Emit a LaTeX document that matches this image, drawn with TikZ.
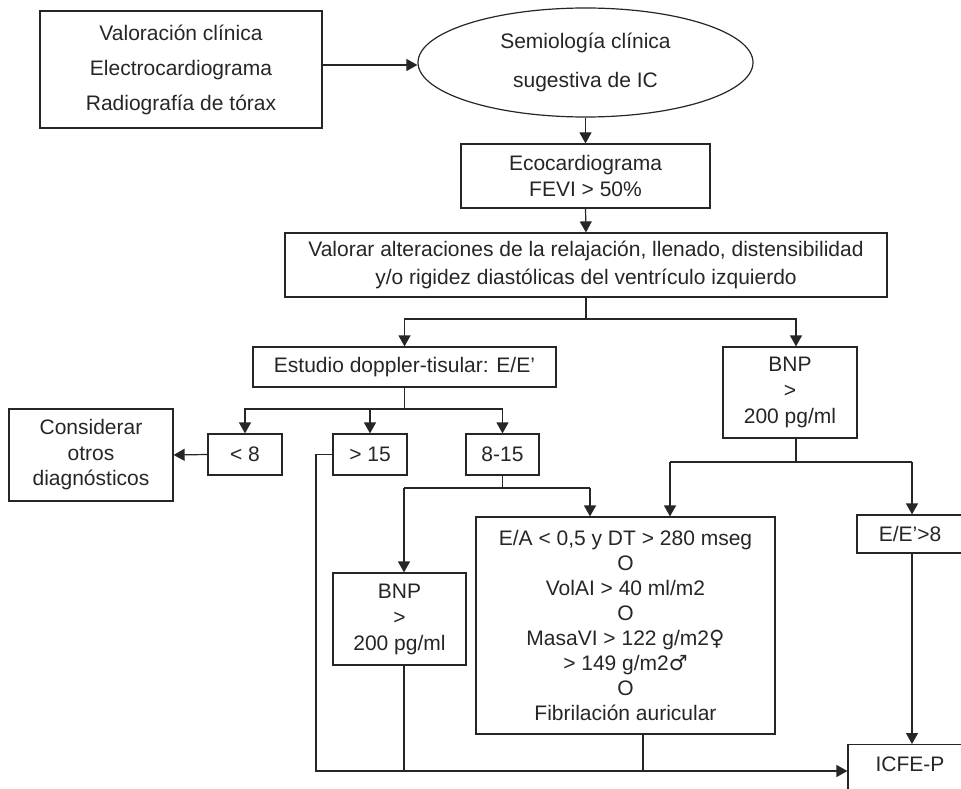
\documentclass[tikz,border=0pt]{standalone}
\usepackage{fontspec}
\setmainfont{Liberation Sans}
\newfontfamily\gsym{DejaVu Sans}
\usetikzlibrary{shapes.geometric,arrows.meta}

\begin{document}
\begin{tikzpicture}[x=1pt, y=-1pt, line width=1.2pt, color=black!85,
  every node/.style={font={\fontsize{21}{24}\selectfont}, align=center, inner sep=0pt},
  box/.style={draw, rectangle},
  arr/.style={-{Triangle[width=12pt,length=11pt]}}]
  \fill[white] (0,0) rectangle (961,789);
  \useasboundingbox (0,0) rectangle (961,789);

  % Top
  \node[box, minimum width=282pt, minimum height=117pt] (clin) at (181,69.5) {Valoración clínica\\[11pt]Electrocardiograma\\[11pt]Radiografía de tórax};
  \node[draw, ellipse, minimum width=335pt, minimum height=109pt] (semio) at (585.5,62.5) {Semiología clínica\\[15pt]sugestiva de IC};
  \node[box, minimum width=249pt, minimum height=64pt] (eco) at (585.5,176) {Ecocardiograma\\[2pt]FEVI > 50\%};
  \node[box, minimum width=602pt, minimum height=64pt] (valor) at (586,265) {Valorar alteraciones de la relajación, llenado, distensibilidad\\[4pt]y/o rigidez diastólicas del ventrículo izquierdo};

  % Branches
  \node[box, minimum width=303pt, minimum height=40pt] (tdi) at (404.5,367) {Estudio doppler-tisular: E/E’};
  \node[box, minimum width=134pt, minimum height=91pt] (bnpr) at (790,392.5) {BNP\\[2pt]>\\[2pt]200 pg/ml};
  \node[box, minimum width=74pt, minimum height=41pt] (lt) at (245,454.5) {< 8};
  \node[box, minimum width=74pt, minimum height=41pt] (gt) at (370,454.5) {> 15};
  \node[box, minimum width=73pt, minimum height=41pt] (mid) at (502.5,454.5) {8-15};
  \node[box, minimum width=164pt, minimum height=92pt] (otros) at (91,455) {Considerar\\[1.5pt]otros\\[1.5pt]diagnósticos};
  \node[box, minimum width=133pt, minimum height=92pt] (bnpl) at (399.5,619) {BNP\\[2pt]>\\[2pt]200 pg/ml};
  \node[box, minimum width=299pt, minimum height=217pt] (crit) at (625.5,625.5) {E/A < 0,5 y DT > 280 mseg\\[1pt]O\\[1pt]VolAI > 40 ml/m2\\[1pt]O\\[1pt]MasaVI > 122 g/m2{\gsym\fontsize{21}{24}\selectfont ♀}\\[1pt]> 149 g/m2{\gsym\fontsize{21}{24}\selectfont ♂}\\[1pt]O\\[1pt]Fibrilación auricular};
  \node[box, minimum width=106pt, minimum height=38pt] (ee) at (910,534) {E/E’>8};
  \node[box, anchor=north, minimum width=124pt, text height=26.5pt, text depth=20pt] (icfe) at (910,744) {ICFE-P};

  % Junctions
  \coordinate (j1) at (586,319);
  \coordinate (a1) at (796,319);
  \coordinate (j2) at (404.5,409);
  \coordinate (j3) at (404,488);
  \coordinate (j4) at (590,488);
  \coordinate (j5) at (670,462);
  \coordinate (j6) at (912,462);
  \coordinate (b1) at (316,771);
  \coordinate (c1) at (643,771);

  \draw[arr] ([yshift=4.5pt]clin.east) -- ([yshift=4.5pt]clin.east -| semio.west);
  \draw[arr] (semio.south) -- (eco.north);
  \draw[arr] (eco.south) -- (valor.north);
  \draw (valor.south) -- (j1);
  \draw[arr] (j1) -| (tdi.north);
  \draw[arr] (j1) -- (a1) -- (a1 |- bnpr.north);

  \draw (tdi.south) -- (j2);
  \draw[arr] (j2) -| (lt.north);
  \draw[arr] (j2) -| (gt.north);
  \draw[arr] (j2) -| (mid.north);
  \draw[arr] (lt.west) -- (otros.east);

  \draw (mid.south) -- (mid.south |- j3);
  \draw (j3) -- (j4);
  \draw[arr] (j3) -- (j3 |- bnpl.north);
  \draw[arr] (j4) -- (j4 |- crit.north);

  \draw (a1 |- bnpr.south) -- (a1 |- j5);
  \draw (j5) -- (j6);
  \draw[arr] (j5) -- (j5 |- crit.north);
  \draw[arr] (j6) -- (j6 |- ee.north);
  \draw[arr] (j6 |- ee.south) -- (j6 |- icfe.north);

  % Bottom
  \draw[arr] (gt.west) -| (b1) -- (b1 -| icfe.west);
  \draw (j3 |- bnpl.south) -- (j3 |- b1);
  \draw (c1 |- crit.south) -- (c1);
\end{tikzpicture}
\end{document}
